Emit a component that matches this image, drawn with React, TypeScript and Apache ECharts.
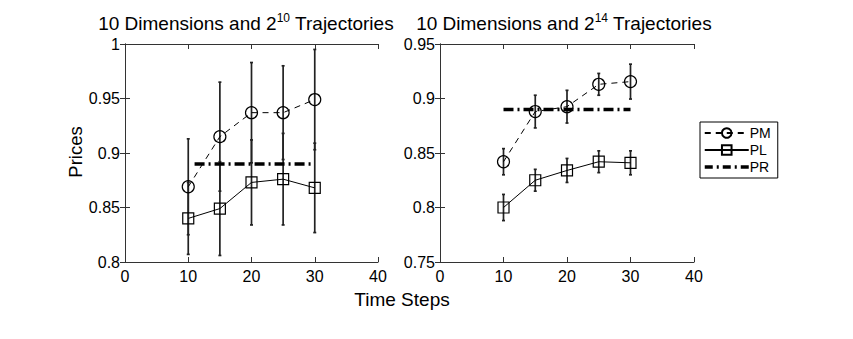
import React, { useEffect, useRef } from "react";
import * as echarts from "echarts";

const steps = [10, 15, 20, 25, 30];
const pmLeft = [0.869, 0.915, 0.937, 0.937, 0.949];
const pmLeftErr = [0.044, 0.05, 0.046, 0.043, 0.046];
const plLeft = [0.84, 0.849, 0.873, 0.876, 0.868];
const plLeftErr = [0.033, 0.043, 0.039, 0.042, 0.041];
const pmRight = [0.842, 0.888, 0.8925, 0.913, 0.9155];
const pmRightErr = [0.012, 0.015, 0.015, 0.01, 0.016];
const plRight = [0.8, 0.825, 0.834, 0.842, 0.841];
const plRightErr = [0.012, 0.01, 0.011, 0.01, 0.011];
const prValue = 0.89;
const prLeftX = [11, 29.5];
const prRightX = [10, 30];

const FONT = "Liberation Sans, Arial, Helvetica, sans-serif";

function pairs(xs: number[], ys: number[]) {
  return xs.map((x, i) => [x, ys[i]]);
}
function errData(xs: number[], ys: number[], es: number[]) {
  return xs.map((x, i) => [x, ys[i] - es[i], ys[i] + es[i]]);
}

const renderErr = (params: any, api: any) => {
  const x = api.value(0);
  const lo = api.coord([x, api.value(1)]);
  const hi = api.coord([x, api.value(2)]);
  const c = 1.5;
  const st = { stroke: "#222", lineWidth: 1.7 };
  return {
    type: "group",
    children: [
      { type: "line", shape: { x1: lo[0], y1: lo[1], x2: hi[0], y2: hi[1] }, style: st },
      { type: "line", shape: { x1: lo[0] - c, y1: lo[1], x2: lo[0] + c, y2: lo[1] }, style: st },
      { type: "line", shape: { x1: hi[0] - c, y1: hi[1], x2: hi[0] + c, y2: hi[1] }, style: st },
    ],
  };
};

export default function App() {
  const ref = useRef<HTMLDivElement>(null);
  useEffect(() => {
    if (!ref.current) return;
    const chart = echarts.init(ref.current, null, { renderer: "svg" });
    const axisLine = { show: true, lineStyle: { color: "#333", width: 1 } };
    const axisTick = { show: true, inside: true, length: 5, lineStyle: { color: "#333" } };
    const xBase = (grid: number, pos: string, labels: boolean) => ({
      type: "value",
      gridIndex: grid,
      position: pos,
      min: 0,
      max: 40,
      interval: 10,
      axisLine,
      axisTick,
      splitLine: { show: false },
      axisLabel: { show: labels, fontSize: 16, color: "#000", fontFamily: FONT, margin: 6 },
    });
    const yBase = (grid: number, pos: string, labels: boolean, min: number, max: number) => ({
      type: "value",
      gridIndex: grid,
      position: pos,
      min,
      max,
      interval: 0.05,
      axisLine,
      axisTick,
      splitLine: { show: false },
      axisLabel: { show: labels, fontSize: 16, color: "#000", fontFamily: FONT, margin: 5 },
    });
    const pmSeries = (xi: number, yi: number, vals: number[]) => ({
      type: "line",
      name: "PM",
      xAxisIndex: xi,
      yAxisIndex: yi,
      data: pairs(steps, vals),
      symbol: "circle",
      symbolSize: 12,
      itemStyle: { color: "rgba(0,0,0,0)", borderColor: "#000", borderWidth: 1.2 },
      lineStyle: { color: "#000", width: 1, type: [6, 5] },
      z: 3,
    });
    const plSeries = (xi: number, yi: number, vals: number[]) => ({
      type: "line",
      name: "PL",
      xAxisIndex: xi,
      yAxisIndex: yi,
      data: pairs(steps, vals),
      symbol: "rect",
      symbolSize: 11,
      itemStyle: { color: "rgba(0,0,0,0)", borderColor: "#000", borderWidth: 1.2 },
      lineStyle: { color: "#000", width: 1 },
      z: 3,
    });
    const prSeries = (xi: number, yi: number, xs: number[]) => ({
      type: "line",
      name: "PR",
      xAxisIndex: xi,
      yAxisIndex: yi,
      data: xs.map((x) => [x, prValue]),
      symbol: "none",
      itemStyle: { color: "#000" },
      lineStyle: { color: "#000", width: 3.5, type: [10, 4, 2, 4], cap: "butt" },
      z: 2,
    });
    const errSeries = (xi: number, yi: number, vals: number[], errs: number[]) => ({
      type: "custom",
      xAxisIndex: xi,
      yAxisIndex: yi,
      data: errData(steps, vals, errs),
      renderItem: renderErr,
      z: 1,
    });
    const titleStyle = {
      fontSize: 19,
      fontWeight: "normal",
      color: "#000",
      fontFamily: FONT,
      lineHeight: 22,
      rich: {
        sup: { fontSize: 12, fontFamily: FONT, color: "#000", verticalAlign: "top", lineHeight: 22 },
      },
    };
    chart.setOption({
      animation: false,
      backgroundColor: "#fff",
      title: [
        { text: "10 Dimensions and 2{sup|10} Trajectories", left: 246, top: 12, textAlign: "center", textStyle: titleStyle, padding: 0 },
        { text: "10 Dimensions and 2{sup|14} Trajectories", left: 564, top: 12, textAlign: "center", textStyle: titleStyle, padding: 0 },
      ],
      grid: [
        { left: 125, top: 44, width: 253, height: 218, show: false },
        { left: 440, top: 44, width: 254, height: 218, show: false },
      ],
      xAxis: [xBase(0, "bottom", true), xBase(1, "bottom", true), xBase(0, "top", false), xBase(1, "top", false)],
      yAxis: [
        yBase(0, "left", true, 0.8, 1),
        yBase(1, "left", true, 0.75, 0.95),
        yBase(0, "right", false, 0.8, 1),
        yBase(1, "right", false, 0.75, 0.95),
      ],
      legend: {
        orient: "vertical",
        left: 700,
        top: 122,
        itemWidth: 44,
        itemHeight: 12,
        itemGap: 3,
        padding: [4, 7, 4, 3],
        borderColor: "#000",
        borderWidth: 1,
        backgroundColor: "#fff",
        textStyle: { fontSize: 14, color: "#000", fontFamily: FONT, padding: [0, 0, 0, -4] },
        data: [
          "PM",
          "PL",
          { name: "PR", itemStyle: { opacity: 0 }, lineStyle: { width: 3.5, color: "#000", type: [8, 4, 2, 4] } },
        ],
      },
      graphic: [
        { type: "text", x: 75, y: 152, rotation: Math.PI / 2, style: { text: "Prices", fontSize: 18.5, fontFamily: FONT, fill: "#000", align: "center", verticalAlign: "middle" } },
        { type: "text", x: 402, y: 299, style: { text: "Time Steps", fontSize: 19, fontFamily: FONT, fill: "#000", align: "center", verticalAlign: "middle" } },
      ],
      series: [
        errSeries(0, 0, pmLeft, pmLeftErr),
        errSeries(0, 0, plLeft, plLeftErr),
        errSeries(1, 1, pmRight, pmRightErr),
        errSeries(1, 1, plRight, plRightErr),
        prSeries(0, 0, prLeftX),
        prSeries(1, 1, prRightX),
        pmSeries(0, 0, pmLeft),
        plSeries(0, 0, plLeft),
        pmSeries(1, 1, pmRight),
        plSeries(1, 1, plRight),
      ],
    });
    return () => chart.dispose();
  }, []);
  return <div ref={ref} style={{ position: "fixed", left: 0, top: 0, width: 853, height: 339 }} />;
}
